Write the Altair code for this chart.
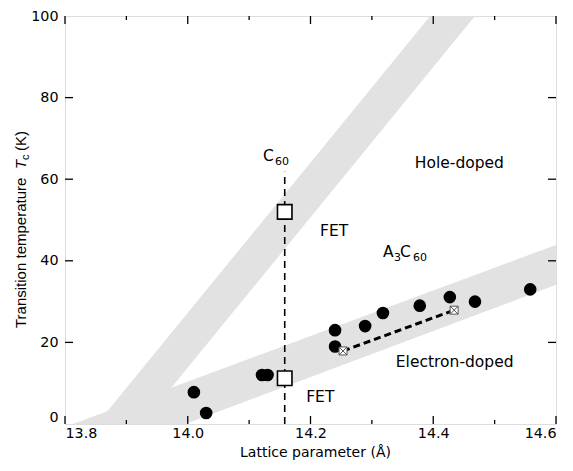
import altair as alt
import pandas as pd

# ---------------- data ----------------
# grey bands (edges of the shaded regions)
hole_y = [0, 100]
hole_x_left = [13.852, 14.395]
hole_x_right = [13.925, 14.468]

elec_x = [13.813, 13.996, 14.6]
elec_lower = [0.0, 0.0, 34.1]
elec_upper = [0.0, 10.2, 43.9]

# A3C60 (filled circles)
dot_x = [14.010, 14.030, 14.121, 14.130, 14.240, 14.240, 14.289, 14.318, 14.378, 14.427, 14.468, 14.558]
dot_y = [7.8, 2.7, 12.0, 12.0, 23.0, 19.0, 24.0, 27.2, 29.0, 31.1, 30.0, 33.0]

# C60 FET (open squares)
fet_x = [14.158, 14.158]
fet_y = [52.0, 11.2]

# vertical dashed line through C60
c60_line_x = [14.158, 14.158]
c60_line_y = [0, 61.8]

# crossed squares joined by dashed line
cross_x = [14.253, 14.434]
cross_y = [17.9, 27.9]

x_major = [13.8, 14.0, 14.2, 14.4, 14.6]
x_minor = [13.9, 14.1, 14.3, 14.5]
y_major = [0, 20, 40, 60, 80, 100]
y_inner = [20, 40, 60, 80]

FONT = "DejaVu Sans"
TFONT = "Liberation Sans"
W, H = 491, 408

xs = alt.Scale(domain=[13.8, 14.6], nice=False, zero=False)
ys = alt.Scale(domain=[0, 100], nice=False, zero=False)

xaxis = alt.Axis(values=x_major, format=".1f", tickSize=0, labelPadding=2, title=None,
                 grid=False, domain=False, labelFontSize=14.3, labelColor="black", labelFont=FONT)
yaxis = alt.Axis(values=y_major, tickSize=0, labelPadding=7, title=None, grid=False, domain=False,
                 labelFontSize=14.3, labelColor="black", labelFont=FONT,
                 labelBaseline=alt.condition("datum.value == 0", alt.value("bottom"),
                                             alt.value("middle")))


def X(f):
    return alt.X(f, type="quantitative", scale=xs, axis=xaxis)


def Y(f):
    return alt.Y(f, type="quantitative", scale=ys, axis=yaxis)


GREY = "#e2e2e2"

elec_df = pd.DataFrame({"x": elec_x, "lo": elec_lower, "hi": elec_upper})
elec_band = alt.Chart(elec_df).mark_area(color=GREY, clip=True).encode(
    x=X("x"), y=Y("lo"), y2="hi")

hole_df = pd.DataFrame({"y": hole_y, "xl": hole_x_left, "xr": hole_x_right})
hole_band = alt.Chart(hole_df).mark_area(color=GREY, orient="horizontal", clip=True).encode(
    y=Y("y"), x=X("xl"), x2="xr")

c60_df = pd.DataFrame({"x": c60_line_x, "y": c60_line_y})
c60_line = alt.Chart(c60_df).mark_line(color="black", strokeWidth=1.6, strokeDash=[7, 5]).encode(
    x=X("x"), y=Y("y"))

cross_df = pd.DataFrame({"x": cross_x, "y": cross_y})
cross_line = alt.Chart(cross_df).mark_line(color="black", strokeWidth=3, strokeDash=[7, 4]).encode(
    x=X("x"), y=Y("y"))
cross_pts = alt.Chart(cross_df).mark_point(
    shape="M-1,-1L1,-1L1,1L-1,1Z M-1,-1L1,1 M1,-1L-1,1",
    size=64, filled=False, fill="white", fillOpacity=1, stroke="#555555", strokeWidth=1, opacity=1
).encode(x=X("x"), y=Y("y"))

dot_df = pd.DataFrame({"x": dot_x, "y": dot_y})
dots = alt.Chart(dot_df).mark_circle(color="black", size=160, opacity=1).encode(x=X("x"), y=Y("y"))

fet_df = pd.DataFrame({"x": fet_x, "y": fet_y})
fet_pts = alt.Chart(fet_df).mark_point(shape="square", size=210, filled=False, fill="white",
                                       fillOpacity=1, stroke="black", strokeWidth=1.6,
                                       opacity=1).encode(x=X("x"), y=Y("y"))


# inward ticks
def xticks(vals, length, top):
    enc = dict(y=alt.value(0), y2=alt.value(length)) if top else dict(y=alt.value(H), y2=alt.value(H - length))
    return alt.Chart(pd.DataFrame({"x": vals})).mark_rule(color="black", strokeWidth=1.3).encode(
        x=X("x"), **enc)


def yticks(vals, length, right):
    enc = dict(x=alt.value(W), x2=alt.value(W - length)) if right else dict(x=alt.value(0), x2=alt.value(length))
    return alt.Chart(pd.DataFrame({"y": vals})).mark_rule(color="black", strokeWidth=1.3).encode(
        y=Y("y"), **enc)


ticks = [xticks(x_major, 8, False), xticks(x_minor, 4, False), xticks(x_major, 8, True),
         xticks(x_minor, 4, True), yticks(y_inner, 8, False), yticks(y_inner, 8, True)]

# annotations
ann_text = ["FET", "FET", "Hole-doped", "Electron-doped", "C", "A", "C"]
ann_x = [14.2155, 14.193, 14.370, 14.339, 14.1226, 14.318, 14.346]
ann_y = [46.1, 5.4, 62.7, 14.0, 64.5, 40.9, 40.9]
sub_text = ["60", "3", "60"]
sub_x = [14.142, 14.336, 14.367]
sub_y = [63.5, 40.0, 40.0]

ann = alt.Chart(pd.DataFrame({"x": ann_x, "y": ann_y, "t": ann_text})).mark_text(
    align="left", baseline="alphabetic", font=FONT, fontSize=15.5, color="black").encode(
    x=X("x"), y=Y("y"), text="t:N")
subs = alt.Chart(pd.DataFrame({"x": sub_x, "y": sub_y, "t": sub_text})).mark_text(
    align="left", baseline="alphabetic", font=FONT, fontSize=11, color="black").encode(
    x=X("x"), y=Y("y"), text="t:N")

one = pd.DataFrame({"a": [0]})


def label(txt, x, y, size=15, angle=0, style="normal", align="left", font=FONT):
    return alt.Chart(one).mark_text(align=align, baseline="alphabetic", font=font, fontSize=size,
                                    fontStyle=style, angle=angle, color="black").encode(
        x=alt.value(x), y=alt.value(y), text=alt.value(txt))


titles = [
    label("Lattice parameter (Å)", W / 2 + 5, H + 33, size=14, align="center"),
    label("Transition temperature", -39, 312, size=15, angle=270, font=TFONT),
    label("T", -39, 153, size=15, angle=270, style="italic", font=TFONT),
    label("c", -36, 144, size=11, angle=270, font=TFONT),
    label("(K)", -39, 135, size=15, angle=270, font=TFONT),
]

chart = alt.layer(
    elec_band, hole_band, c60_line, cross_line, dots, fet_pts, cross_pts, *ticks, ann, subs, *titles
).properties(
    width=W, height=H,
    autosize=alt.AutoSizeParams(type="none"),
    padding={"left": 57, "top": 8, "right": 6, "bottom": 38},
).configure_view(stroke="black", strokeWidth=1.5).configure(background="white")

chart.save("out.html", embed_options={"renderer": "svg", "actions": False})
